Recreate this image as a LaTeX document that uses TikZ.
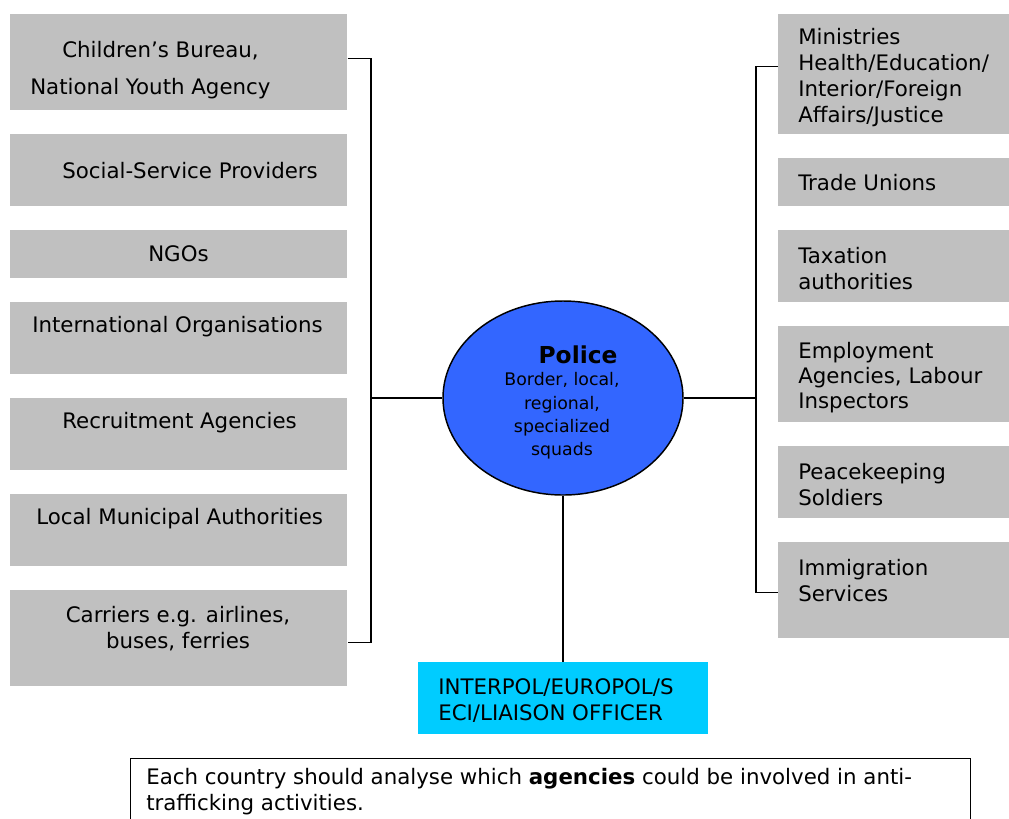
\documentclass[tikz,border=0pt]{standalone}
\usepackage{fontspec}
\setmainfont{DejaVu Sans}
\usetikzlibrary{shapes.geometric}

\definecolor{boxgray}{HTML}{C0C0C0}
\definecolor{policeblue}{HTML}{3366FF}
\definecolor{liaisoncyan}{HTML}{00CCFF}

\tikzset{
  agency/.style args={#1/#2}{fill=boxgray, draw=none, inner sep=0pt, anchor=north west,
    minimum width=#1*0.75pt, minimum height=#2*0.75pt},
  lbl/.style={anchor=west, inner sep=0pt, align=left, yshift=-1.5pt,
    font=\fontsize{16}{19}\selectfont},
  wire/.style={line width=1.1pt, draw=black},
}

\begin{document}
\begin{tikzpicture}[x=0.75pt, y=-0.75pt]
  \clip (0,0) rectangle (1009,818);
  \useasboundingbox (0,0) rectangle (1009,818);

  % left column of agencies
  \node[agency=337/96] (L1) at (10,14) {};
  \node[agency=337/72] (L2) at (10,134) {};
  \node[agency=337/48] (L3) at (10,230) {};
  \node[agency=337/72] (L4) at (10,302) {};
  \node[agency=337/72] (L5) at (10,398) {};
  \node[agency=337/72] (L6) at (10,494) {};
  \node[agency=337/96] (L7) at (10,590) {};

  \node[lbl] (t1a) at (62,49) {Children’s Bureau,};
  \node[lbl] (t1b) at (30,87) {National Youth Agency};
  \node[lbl] (t2) at (62,169) {Social-Service Providers};
  \node[lbl] (t3) at (148,252) {NGOs};
  \node[lbl] (t4) at (32,325) {International Organisations};
  \node[lbl] (t5) at (62,421) {Recruitment Agencies};
  \node[lbl] (t6) at (36,517) {Local Municipal Authorities};
  \node[lbl, anchor=center, align=center] (t7) at (178,626.5) {Carriers e.g. airlines,\\buses, ferries};

  % right column of agencies
  \node[agency=231/120] (R1) at (778,14) {};
  \node[agency=231/48] (R2) at (778,158) {};
  \node[agency=231/72] (R3) at (778,230) {};
  \node[agency=231/96] (R4) at (778,326) {};
  \node[agency=231/72] (R5) at (778,446) {};
  \node[agency=231/96] (R6) at (778,542) {};

  \node[lbl, font=\fontsize{16}{19.5}\selectfont] (r1) at (798,76) {Ministries\\Health/Education/\\Interior/Foreign\\Affairs/Justice};
  \node[lbl] (r2) at (798,181) {Trade Unions};
  \node[lbl] (r3) at (798,266.5) {Taxation\\authorities};
  \node[lbl] (r4) at (798,375.5) {Employment\\Agencies, Labour\\Inspectors};
  \node[lbl] (r5) at (798,482.5) {Peacekeeping\\Soldiers};
  \node[lbl] (r6) at (798,578.5) {Immigration\\Services};

  % police in the centre
  \node[ellipse, draw=black, line width=1.1pt, fill=policeblue,
        minimum width=180pt, minimum height=145.5pt, inner sep=0pt] (police) at (563,398) {};
  \node[inner sep=0pt, font=\fontsize{17.5}{20}\selectfont\bfseries] (ptitle) at (578,355) {Police};
  \node[inner sep=0pt, align=center, font=\fontsize{13}{17.5}\selectfont] (psub) at (562,416) {Border, local,\\regional,\\specialized\\squads};

  % international liaison
  \node[fill=liaisoncyan, inner sep=0pt, anchor=north west,
        minimum width=290*0.75pt, minimum height=72*0.75pt] (liaison) at (418,662) {};
  \node[lbl] (tl) at (438,698.5) {INTERPOL/EUROPOL/S\\ECI/LIAISON OFFICER};

  % note at the foot
  \node[draw=black, line width=1.1pt, inner sep=0pt, anchor=north west,
        minimum width=840*0.75pt, minimum height=80*0.75pt] (note) at (130,758) {};
  \node[lbl] (tn) at (146,789.5) {Each country should analyse which \textbf{agencies} could be involved in anti-\\trafficking activities.};

  % connectors
  \coordinate (lj) at (371,398);
  \coordinate (rj) at (756,398);
  \draw[wire] ([yshift=3pt]L1.east) -| (lj) |- ([yshift=-3pt]L7.east);
  \draw[wire] (lj) -- (police.west);
  \draw[wire] ([yshift=6pt]R1.west) -| (rj) |- ([yshift=-1.5pt]R6.west);
  \draw[wire] (police.east) -- (rj);
  \draw[wire] (police.south) -- (police.south |- liaison.north);
\end{tikzpicture}
\end{document}
